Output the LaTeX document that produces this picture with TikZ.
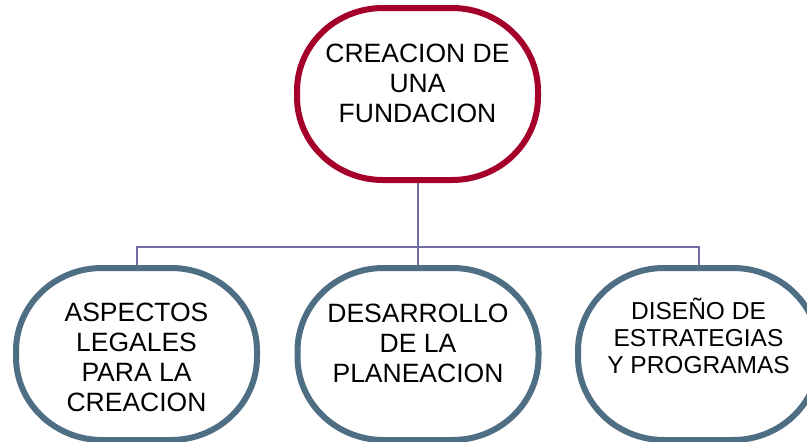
\documentclass[tikz,border=0pt]{standalone}
\usepackage{fontspec}
\setmainfont{Liberation Sans}
\usetikzlibrary{calc}
\definecolor{topred}{RGB}{165,0,42}
\definecolor{boxblue}{RGB}{78,110,132}
\definecolor{linkblue}{RGB}{110,110,165}
\newcommand\blobshape[2]{%
  \draw[line width=6pt,draw=#2,fill=white]
    ($(#1.north)+(-34.5pt,0pt)$) -- ++(69pt,0pt)
    arc[start angle=90,end angle=0,x radius=86pt,y radius=83pt]
    -- ++(0pt,-6pt)
    arc[start angle=0,end angle=-90,x radius=86pt,y radius=83pt]
    -- ++(-69pt,0pt)
    arc[start angle=-90,end angle=-180,x radius=86pt,y radius=83pt]
    -- ++(0pt,6pt)
    arc[start angle=180,end angle=90,x radius=86pt,y radius=83pt]
    -- cycle;}
\begin{document}
\begin{tikzpicture}[x=1pt,y=-1pt,
  shape box/.style={rectangle,minimum width=241pt,minimum height=172pt,
    inner sep=0pt,outer sep=0pt},
  txt/.style={align=center,inner sep=0pt,font=\fontsize{26.5pt}{30pt}\selectfont},
  smalltxt/.style={align=center,inner sep=0pt,font=\fontsize{24.5pt}{27pt}\selectfont},
  link/.style={draw=linkblue,line width=2pt}]
\useasboundingbox[fill=white] (0,0) rectangle (807,442);
\node[shape box] (top) at (417.5,94) {};
\node[shape box] (left) at (136.5,354) {};
\node[shape box] (mid) at (418,354) {};
\node[shape box] (right) at (698.5,354) {};
\coordinate (bar) at (417.5,247);
\draw[link] (top.south) -- (bar);
\draw[link] (left.north) |- (bar) -| (right.north);
\draw[link] (bar) -- (bar -| mid.north) -- (mid.north);
\blobshape{top}{topred}
\blobshape{left}{boxblue}
\blobshape{mid}{boxblue}
\blobshape{right}{boxblue}
\node[txt] (toptxt) at (417.5,83) {CREACION DE\\UNA\\FUNDACION};
\node[txt] (lefttxt) at (136.5,357) {ASPECTOS\\LEGALES\\PARA LA\\CREACION};
\node[txt] (midtxt) at (418,343) {DESARROLLO\\DE LA\\PLANEACION};
\node[smalltxt] (righttxt) at (698.5,336) {DISEÑO DE\\ESTRATEGIAS\\Y PROGRAMAS};
\end{tikzpicture}
\end{document}
